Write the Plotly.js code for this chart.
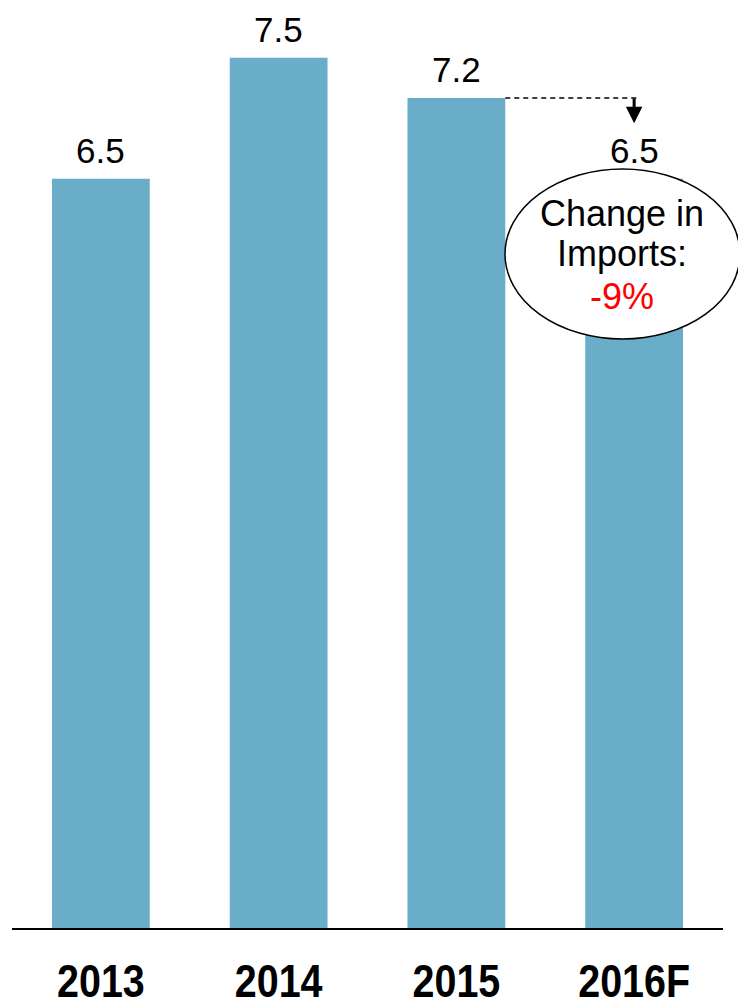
<!DOCTYPE html>
<html>
<head>
<meta charset="utf-8">
<script src="https://cdn.plot.ly/plotly-3.0.1.min.js"></script>
<style>html,body{margin:0;padding:0;background:#fff;}#chart{width:738px;height:999px;}</style>
</head>
<body>
<div id="chart"></div>
<script>
const categories = ['2013', '2014', '2015', '2016F'];
const imports = [6.5, 7.55, 7.2, 6.5];
const valueLabels = ['6.5', '7.5', '7.2', '6.5'];
const calloutLines = ['Change in', 'Imports:', '-9%'];
const calloutColors = ['#000000', '#000000', '#ff0000'];

const W = 738, H = 999;
const M = {l: 12, r: 15, t: 0, b: 71};
const plotW = W - M.l - M.r, plotH = H - M.t - M.b;
const yMax = 8.05;
const barWidth = 0.55;
const px = x => (x - M.l) / plotW;
const py = y => (H - M.b - y) / plotH;

const annotations = categories.map((c, i) => ({
  x: i, y: imports[i], xref: 'x', yref: 'y',
  text: valueLabels[i], showarrow: false, yanchor: 'bottom', yshift: 7,
  font: {family: 'Liberation Sans, Arial, sans-serif', size: 35, color: '#000'}
}));

// arrow from 2015 level down toward 2016F label
annotations.push({
  x: 3, y: 6.98, xref: 'x', yref: 'y',
  ax: 0, ay: -26,
  showarrow: true, arrowhead: 2, arrowsize: 1.1, arrowwidth: 3, arrowcolor: '#000', text: ''
});

const lineY = [213, 253, 296];
calloutLines.forEach((t, i) => annotations.push({
  x: px(622), y: py(lineY[i]), xref: 'paper', yref: 'paper',
  text: t, showarrow: false, xanchor: 'center', yanchor: 'middle',
  font: {family: 'Liberation Sans, Arial, sans-serif', size: 36, color: calloutColors[i]}
}));

const shapes = [
  {type: 'line', xref: 'x', yref: 'y', x0: 2 + barWidth / 2, x1: 3.03, y0: imports[2], y1: imports[2],
   line: {color: '#000', width: 1.5, dash: '5px,4px'}},
  {type: 'circle', xref: 'paper', yref: 'paper', x0: px(505), x1: px(740), y0: py(339), y1: py(169),
   fillcolor: '#ffffff', line: {color: '#000', width: 1.5}, layer: 'above'}
];

const trace = {
  type: 'bar', x: categories, y: imports, width: barWidth,
  marker: {color: '#6aadc8', line: {width: 0}}, hoverinfo: 'none', cliponaxis: false
};

const layout = {
  width: W, height: H, margin: M, showlegend: false,
  paper_bgcolor: '#fff', plot_bgcolor: '#fff',
  xaxis: {type: 'category', range: [-0.5, 3.5], autorange: false, showline: true, linecolor: '#000', linewidth: 2, ticks: '',
    showgrid: false, zeroline: false, ticklabelstandoff: 11,
    tickfont: {family: 'Liberation Sans, Arial, sans-serif', size: 47, color: '#000', weight: 'bold'}},
  yaxis: {range: [0, yMax], autorange: false, visible: false, showgrid: false, zeroline: false},
  annotations: annotations, shapes: shapes
};

Plotly.newPlot('chart', [trace], layout, {staticPlot: true, displayModeBar: false}).then(gd => {
  // the reference uses a narrow bold face: condense tick labels horizontally
  gd.querySelectorAll('.xtick').forEach(g => {
    const bb = g.getBBox();
    const cx = bb.x + bb.width / 2;
    const prev = g.getAttribute('transform') || '';
    g.setAttribute('transform', prev + ` translate(${cx},0) scale(0.84,1) translate(${-cx},0)`);
  });
});
</script>
</body>
</html>
